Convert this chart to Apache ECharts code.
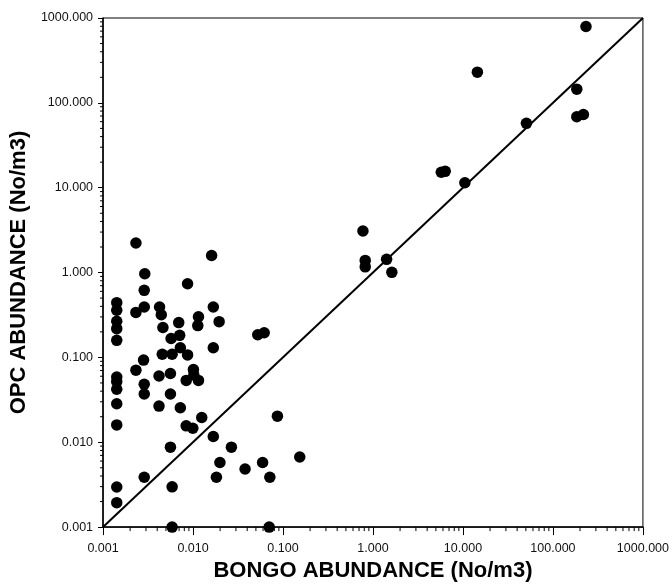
<!DOCTYPE html>
<html>
<head>
<meta charset="utf-8">
<script src="https://cdn.jsdelivr.net/npm/echarts@6/dist/echarts.min.js"></script>
<style>
  html, body { margin: 0; padding: 0; background: #fff; }
  #chart { width: 672px; height: 587px; }
</style>
</head>
<body>
<div id="chart"></div>
<script>
// Net abundance comparison: Bongo net (x) vs OPC (y), No/m3, log-log
const bongo = [
  0.00232, 0.0161, 0.00291, 0.0087, 0.00287, 0.00142, 0.00142, 0.00142, 0.00142, 0.00142,
  0.00232, 0.00287, 0.00425, 0.00444, 0.00463, 0.00694, 0.00711, 0.00571, 0.0115, 0.0113,
  0.0168, 0.0195, 0.0524, 0.0618, 0.0168, 0.00455, 0.00586, 0.00723, 0.0087, 0.00282,
  0.00232, 0.00142, 0.00142, 0.00142, 0.00142, 0.00142, 0.00287, 0.00287, 0.00419, 0.00561,
  0.00561, 0.00419, 0.00723, 0.0101, 0.0084, 0.0115, 0.0102, 0.0084, 0.00995, 0.0125,
  0.0168, 0.0267, 0.00561, 0.0867, 0.0199, 0.0182, 0.0379, 0.0593, 0.0714, 0.1535,
  0.0702, 0.00586, 0.00586, 0.00142, 0.00142, 0.00287,
  232.8, 14.46, 184, 184, 218, 50.7, 5.74, 6.35, 10.5,
  0.773, 0.82, 0.82, 1.417, 1.62
];
const opc = [
  2.23, 1.59, 0.968, 0.738, 0.617, 0.442, 0.36, 0.267, 0.218, 0.159,
  0.339, 0.393, 0.393, 0.318, 0.225, 0.257, 0.182, 0.167, 0.301, 0.237,
  0.393, 0.264, 0.185, 0.195, 0.130, 0.109, 0.109, 0.130, 0.107, 0.093,
  0.0707, 0.0587, 0.052, 0.0422, 0.0284, 0.016, 0.0482, 0.037, 0.0603, 0.0646,
  0.037, 0.0267, 0.0255, 0.0718, 0.0536, 0.0536, 0.062, 0.0156, 0.0146, 0.0196,
  0.0117, 0.00875, 0.00875, 0.0203, 0.00577, 0.00387, 0.00484, 0.00577, 0.00387, 0.00671,
  0.001, 0.00298, 0.001, 0.00297, 0.00194, 0.00387,
  794, 229.8, 145, 68.5, 72.8, 57.3, 15.2, 15.6, 11.45,
  3.09, 1.39, 1.167, 1.43, 1.005
];
// 1:1 reference line endpoints
const oneToOne = [0.001, 1000];

const axisMin = 0.001;
const axisMax = 1000;

// log minor ticks (2..9 within each decade)
const minorTicks = [];
for (let e = -3; e < 3; e++) {
  for (let m = 2; m <= 9; m++) minorTicks.push(m * Math.pow(10, e));
}

const points = bongo.map((x, i) => [x, opc[i]]);
const linePts = oneToOne.map(v => [v, v]);

const fmt = v => Number(v).toFixed(3);
const labelFont = { fontFamily: 'Liberation Sans, Arial, sans-serif', fontSize: 12.5, color: '#111' };
const nameFont = { fontFamily: 'Liberation Sans, Arial, sans-serif', fontSize: 22, fontWeight: 'bold', color: '#000' };

const chart = echarts.init(document.getElementById('chart'), null, { renderer: 'canvas' });

chart.setOption({
  animation: false,
  backgroundColor: '#fff',
  grid: {
    left: 100, right: 25, top: 18, bottom: 48,
    show: true, borderColor: '#000', borderWidth: 1
  },
  xAxis: {
    type: 'log', logBase: 10, min: axisMin, max: axisMax, interval: 1,
    name: 'BONGO ABUNDANCE (No/m3)', nameLocation: 'middle', nameGap: 26,
    nameTextStyle: nameFont,
    axisLine: { lineStyle: { color: '#000', width: 1.5 } },
    axisTick: { show: true, length: 8, lineStyle: { color: '#000', width: 1 } },
    axisLabel: Object.assign({ formatter: fmt, margin: 15 }, labelFont),
    splitLine: { show: false },
    minorTick: { show: false }
  },
  yAxis: {
    type: 'log', logBase: 10, min: axisMin, max: axisMax, interval: 1,
    name: 'OPC ABUNDANCE (No/m3)', nameLocation: 'middle', nameGap: 63,
    nameTextStyle: nameFont,
    axisLine: { lineStyle: { color: '#000', width: 1.5 } },
    axisTick: { show: true, length: 5, lineStyle: { color: '#000', width: 1 } },
    axisLabel: Object.assign({ formatter: fmt, margin: 10 }, labelFont),
    splitLine: { show: false },
    minorTick: { show: false }
  },
  series: [
    {
      type: 'line',
      data: linePts,
      showSymbol: false,
      symbol: 'none',
      lineStyle: { color: '#000', width: 2 },
      silent: true,
      z: 2
    },
    {
      type: 'scatter',
      data: points,
      symbol: 'circle',
      symbolSize: 11.5,
      itemStyle: { color: '#000', opacity: 1 },
      clip: false,
      z: 3
    },
    {
      // x-axis minor ticks
      type: 'custom',
      data: minorTicks.map(v => [v, axisMin]),
      silent: true,
      clip: false,
      renderItem: (params, api) => {
        const p = api.coord([api.value(0), api.value(1)]);
        return {
          type: 'line',
          shape: { x1: p[0], y1: p[1], x2: p[0], y2: p[1] + 4 },
          style: { stroke: '#000', lineWidth: 1 }
        };
      },
      z: 1
    },
    {
      // y-axis minor ticks
      type: 'custom',
      data: minorTicks.map(v => [axisMin, v]),
      silent: true,
      clip: false,
      renderItem: (params, api) => {
        const p = api.coord([api.value(0), api.value(1)]);
        return {
          type: 'line',
          shape: { x1: p[0], y1: p[1], x2: p[0] - 3, y2: p[1] },
          style: { stroke: '#000', lineWidth: 1 }
        };
      },
      z: 1
    }
  ]
});
</script>
</body>
</html>
